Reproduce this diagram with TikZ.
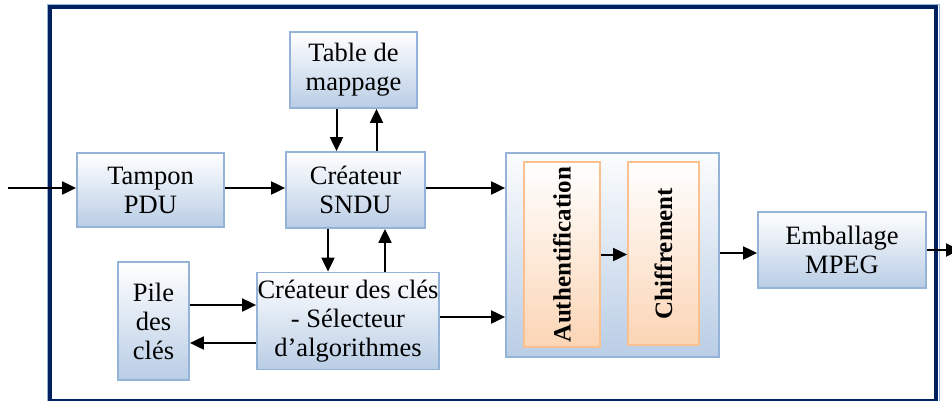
\documentclass[tikz,border=0pt]{standalone}
\usepackage{fontspec}
\setmainfont{Liberation Serif}
\usetikzlibrary{arrows.meta, calc}
\definecolor{navyframe}{RGB}{0, 32, 96}
\definecolor{boxedge}{RGB}{149, 179, 215}
\definecolor{boxfill}{RGB}{185, 205, 229}
\definecolor{peachedge}{RGB}{250, 192, 143}
\definecolor{peachfill}{RGB}{251, 213, 181}

\begin{document}
\begin{tikzpicture}[x=1pt, y=-1pt, line cap=butt, line join=miter,
	flow/.style={-{Triangle[length=14pt,width=13pt]}, black, line width=2pt},
	bluebox/.style={draw=boxedge, line width=1.8pt, top color=white, bottom color=boxfill,
		inner sep=0pt, align=center, font=\fontsize{26.5}{29}\selectfont},
	peachbox/.style={draw=peachedge, line width=1.8pt, top color=white, bottom color=peachfill,
		inner sep=0pt}]

		\useasboundingbox (0,0) rectangle (952,400);

		% outer frame
		\draw [boxedge, line width=1pt] (47,4) rectangle (939,404);
		\draw [navyframe, line width=4.5pt] (50,7) rectangle (936,401);

		% blocks
		\node [bluebox, minimum width=127pt, minimum height=76pt] (table) at (353.5,70) {Table de\\mappage};
		\node [bluebox, minimum width=147pt, minimum height=74pt] (tampon) at (150.5,190) {Tampon\\PDU};
		\node [bluebox, minimum width=139pt, minimum height=76pt] (sndu) at (355.5,190) {Créateur\\SNDU};
		\node [bluebox, minimum width=71pt, minimum height=118pt] (pile) at (153.5,321) {Pile\\des\\clés};
		\node [bluebox, minimum width=182pt, minimum height=97pt] (cles) at (348,321) {Créateur des clés\\- Sélecteur\\d’algorithmes};
		\node [bluebox, minimum width=168pt, minimum height=76pt] (mpeg) at (842,250) {Emballage\\MPEG};

		% security block
		\node [bluebox, minimum width=213pt, minimum height=204pt, top color=white!95!boxfill] (secu) at (612.5,255) {};
		\node [peachbox, minimum width=76pt, minimum height=185pt] (auth) at (562,254.5) {};
		\node [peachbox, minimum width=71pt, minimum height=183pt] (chiff) at (663.5,253.5) {};
		\node [rotate=90, font=\fontsize{25}{29}\selectfont\bfseries] (authtxt) at (auth.center) {Authentification};
		\node [rotate=90, font=\fontsize{25}{29}\selectfont\bfseries] (chifftxt) at (chiff.center) {Chiffrement};

		% free ends
		\coordinate (in) at (8,188);
		\coordinate (out) at (960,250);

		% connectors
		\draw [flow] (in) -- (tampon.west |- in);
		\draw [flow] ([yshift=2pt]tampon.east) -- ([yshift=2pt]sndu.west);
		\draw [flow] ([xshift=-17pt]table.south) -- ([xshift=-19pt]sndu.north);
		\draw [flow] ([xshift=21pt]sndu.north) -- ([xshift=23pt]table.south);
		\draw [flow] ([xshift=-27.5pt]sndu.south) -- ([xshift=-20pt]cles.north);
		\draw [flow] ([xshift=37pt]cles.north) -- ([xshift=29.5pt]sndu.south);
		\draw [flow] ([yshift=16pt]pile.east) -- ([yshift=16pt]cles.west);
		\draw [flow] ([yshift=-22pt]cles.west) -- ([yshift=-22pt]pile.east);
		\draw [flow] ([yshift=2pt]sndu.east) coordinate (s1) -- (s1 -| secu.west);
		\draw [flow] ([yshift=4pt]cles.east) coordinate (c1) -- (c1 -| secu.west);
		\draw [flow] (auth.east) coordinate (a1) -- (a1 -| chiff.west);
		\draw [flow] ([yshift=2pt]secu.east) coordinate (m1) -- (m1 -| mpeg.west);
		\draw [flow] (mpeg.east) -- (out);
\end{tikzpicture}
\end{document}
